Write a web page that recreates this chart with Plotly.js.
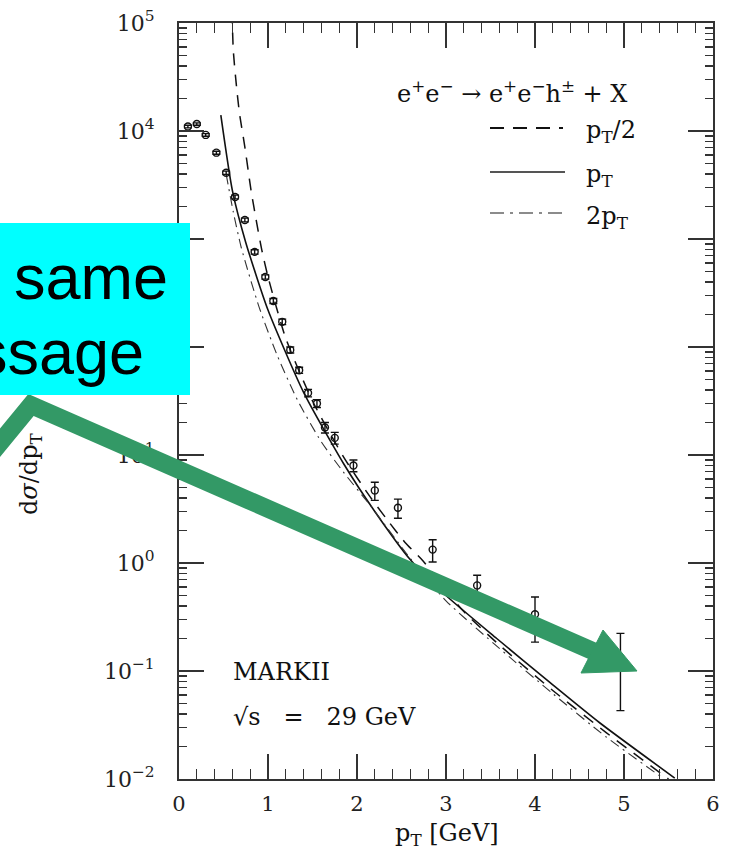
<!DOCTYPE html>
<html><head><meta charset="utf-8">
<script src="https://cdn.plot.ly/plotly-3.0.1.min.js"></script>
<style>html,body{margin:0;padding:0;background:#fff;}#chart{width:729px;height:854px;}</style>
</head><body><div id="chart"></div>
<script>
// ---- data ----
const dataPt  = [0.1, 0.2, 0.3, 0.42, 0.53, 0.63, 0.74, 0.85, 0.97, 1.06, 1.16, 1.25, 1.35, 1.45, 1.55, 1.64, 1.75, 1.96, 2.2, 2.46, 2.85, 3.35, 4.0, 4.96];
const dataVal = [11000, 11600, 9200, 6300, 4100, 2450, 1500, 760, 445, 267, 171, 94, 61, 37.5, 30, 18, 14.4, 8.0, 4.7, 3.25, 1.33, 0.62, 0.335, 0.133];
const dataErr = [300, 300, 250, 200, 150, 100, 60, 35, 20, 14, 10, 6, 4, 3, 2.5, 2, 1.8, 1.0, 0.9, 0.65, 0.31, 0.15, 0.15, 0.09];

const solidPt  = [0.47, 0.6, 0.75, 1.0, 1.4, 1.85, 2.2, 2.6, 3.0, 3.57, 4.17, 4.73, 5.57];
const solidVal = [14000, 2800, 930, 220, 38, 8.3, 3.0, 1.07, 0.5, 0.2, 0.078, 0.033, 0.0102];

const dashPt  = [0.59, 0.61, 0.645, 0.68, 0.74, 0.81, 0.875, 0.93, 1.0, 1.2, 1.5, 1.85, 2.15, 2.34, 2.54, 2.74, 2.95, 3.2, 3.6, 4.2, 4.8, 5.5];
const dashVal = [200000, 56000, 26300, 14500, 7100, 2800, 1380, 794, 447, 120, 31.6, 9.55, 4.07, 2.51, 1.55, 1.05, 0.63, 0.355, 0.174, 0.066, 0.0269, 0.0100];

const dotdashPt  = [0.53, 0.61, 0.7, 0.9, 1.1, 1.33, 1.6, 1.85, 2.15, 2.6, 3.0, 3.6, 4.2, 4.8, 5.45];
const dotdashVal = [3980, 1780, 830, 234, 85, 32.4, 13.2, 6.9, 3.4, 1.1, 0.447, 0.162, 0.0617, 0.0245, 0.01];

const xTickVals = [0, 1, 2, 3, 4, 5, 6];
const yTickVals = [0.01, 0.1, 1, 10, 100, 1000, 10000, 100000];
// 10^2 and 10^3 are hidden behind the call-out box in the reference
const yTickText = ['10<sup>−2</sup>', '10<sup>−1</sup>', '10<sup>0</sup>', '10<sup>1</sup>', '', '', '10<sup>4</sup>', '10<sup>5</sup>'];

const NB = '\u00a0';
const legendTitle = 'e<sup>+</sup>e<sup>−</sup>' + NB + '→' + NB + 'e<sup>+</sup>e<sup>−</sup>h<sup>±</sup>' + NB + '+' + NB + 'X';
const legendLabels = ['p<sub>T</sub>/2', 'p<sub>T</sub>', '2p<sub>T</sub>'];

// ---- layout helpers (pixel -> paper) ----
const L = 179, R = 713, T = 23, B = 779;
const px = v => (v - L) / (R - L);
const py = v => (B - v) / (B - T);

const minorY = [];
for (let e = -2; e < 5; e++) for (let d = 2; d <= 9; d++) minorY.push(d * Math.pow(10, e));

const serif = 'DejaVu Serif, serif';
const ink = '#111';

const traces = [
  {x: solidPt, y: solidVal, mode: 'lines', line: {color: ink, width: 1.6, shape: 'spline', smoothing: 0.6}, hoverinfo: 'skip'},
  {x: dashPt, y: dashVal, mode: 'lines', line: {color: ink, width: 1.5, dash: '12px,9px', shape: 'spline', smoothing: 0.6}, hoverinfo: 'skip'},
  {x: dotdashPt, y: dotdashVal, mode: 'lines', line: {color: '#333', width: 1.1, dash: '10px,5px,2px,5px', shape: 'spline', smoothing: 0.6}, hoverinfo: 'skip'},
  {x: dataPt, y: dataVal, mode: 'markers', cliponaxis: true,
   marker: {symbol: 'circle-open', size: 7, color: ink, line: {width: 1.4, color: ink}},
   error_y: {type: 'data', array: dataErr, visible: true, color: ink, thickness: 1.4, width: 4}}
];

function ann(text, x, y, opts) {
  return Object.assign({text: text, xref: 'paper', yref: 'paper', x: px(x), y: py(y), showarrow: false,
    font: {family: serif, size: 23, color: ink}, xanchor: 'left', yanchor: 'middle'}, opts || {});
}

const green = '#339966';
const sans = 'Liberation Sans, Arial, sans-serif';
const layout = {
  width: 729, height: 854,
  margin: {l: L, r: 729 - R, t: T, b: 854 - B},
  paper_bgcolor: '#fff', plot_bgcolor: '#fff',
  showlegend: false,
  xaxis: {range: [0, 6], tickvals: xTickVals, ticks: 'inside', ticklen: 25, tickwidth: 1.3, tickcolor: '#333',
          minor: {dtick: 0.2, ticks: 'inside', ticklen: 10, tickwidth: 1.2, tickcolor: '#333', showgrid: false},
          showline: true, linecolor: '#333', linewidth: 2, mirror: 'allticks', showgrid: false, zeroline: false,
          tickfont: {family: serif, size: 21, color: '#222'}, ticklabelstandoff: 5},
  yaxis: {type: 'log', range: [-2, 5], tickvals: yTickVals, ticktext: yTickText, ticks: 'inside', ticklen: 25, tickwidth: 1.3, tickcolor: '#333',
          minor: {tickvals: minorY, ticks: 'inside', ticklen: 8, tickwidth: 1.2, tickcolor: '#333', showgrid: false},
          showline: true, linecolor: '#333', linewidth: 2, mirror: 'allticks', showgrid: false, zeroline: false,
          tickfont: {family: serif, size: 22, color: '#222'}, ticklabelstandoff: 18},
  shapes: [
    // legend samples
    {type: 'line', xref: 'paper', yref: 'paper', x0: px(490), x1: px(563), y0: py(128), y1: py(128), line: {color: ink, width: 2, dash: '14px,9px'}},
    {type: 'line', xref: 'paper', yref: 'paper', x0: px(490), x1: px(565), y0: py(172), y1: py(172), line: {color: '#555', width: 2}},
    {type: 'line', xref: 'paper', yref: 'paper', x0: px(490), x1: px(565), y0: py(213), y1: py(213), line: {color: '#666', width: 1.5, dash: '14px,6px,3px,6px'}},
    // green arrows
    {type: 'path', xref: 'paper', yref: 'paper', layer: 'above',
     path: 'M ' + px(-15) + ' ' + py(461) + ' L ' + px(31) + ' ' + py(405) + ' L ' + px(595) + ' ' + py(652),
     line: {color: green, width: 18}},
    {type: 'path', xref: 'paper', yref: 'paper', layer: 'above', fillcolor: green,
     path: 'M ' + px(603) + ' ' + py(630) + ' L ' + px(637) + ' ' + py(671) + ' L ' + px(581) + ' ' + py(673) + ' Z',
     line: {color: green, width: 1}},
    // cyan call-out box
    {type: 'rect', xref: 'paper', yref: 'paper', layer: 'above', x0: px(-30), x1: px(190), y0: py(223), y1: py(395),
     fillcolor: '#00ffff', line: {width: 0}}
  ],
  annotations: [
    ann(legendTitle, 512, 92, {xanchor: 'center', font: {family: serif, size: 24, color: ink}}),
    ann(legendLabels[0], 584, 131, {font: {family: serif, size: 24, color: ink}}),
    ann(legendLabels[1], 584, 176, {font: {family: serif, size: 24, color: ink}}),
    ann(legendLabels[2], 584, 217, {font: {family: serif, size: 24, color: ink}}),
    ann('MARKII', 231, 672, {font: {family: serif, size: 24, color: ink}}),
    ann('√s' + NB + NB + NB + '=' + NB + NB + NB + '29' + NB + 'GeV', 231, 717, {font: {family: serif, size: 24, color: ink}}),
    ann('d<i>σ</i>/dp<sub>T</sub>', 31, 474, {xanchor: 'center', textangle: -90, font: {family: serif, size: 24, color: ink}}),
    ann('p<sub>T</sub>' + NB + '[GeV]', 447, 834, {xanchor: 'center', font: {family: serif, size: 24, color: ink}}),
    ann('same', 170, 277, {xanchor: 'right', font: {family: sans, size: 63, color: '#000'}}),
    ann('ssage', 146, 352, {xanchor: 'right', font: {family: sans, size: 63, color: '#000'}})
  ]
};

Plotly.newPlot('chart', traces, layout, {staticPlot: true, displayModeBar: false});
</script>
</body></html>
